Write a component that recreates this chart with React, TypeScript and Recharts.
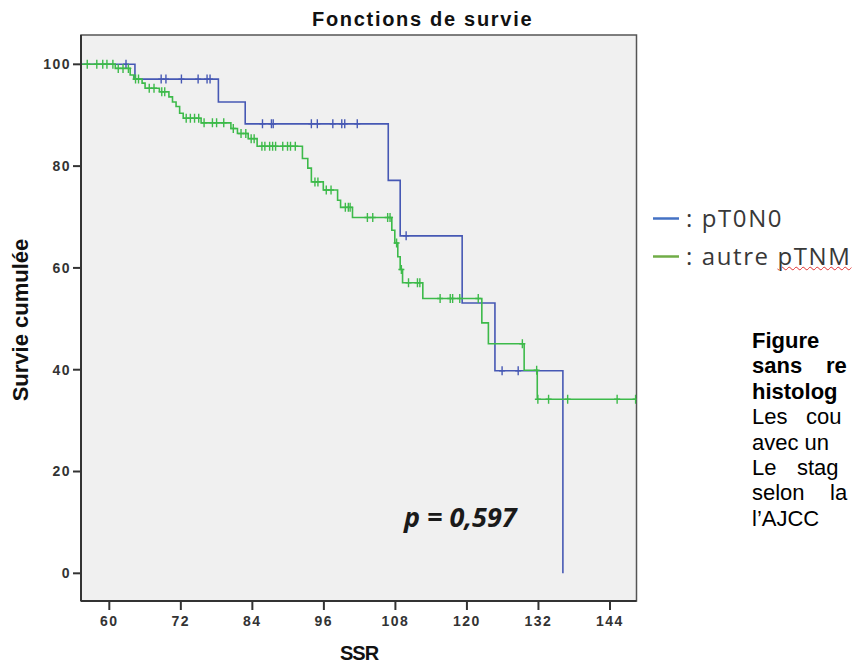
import React from "react";
import { ComposedChart, Line, Scatter, XAxis, YAxis, ReferenceArea } from "recharts";

type Step = { t: number; s: number };

const xTicks = [60, 72, 84, 96, 108, 120, 132, 144];
const yTicks = [0, 20, 40, 60, 80, 100];

// pT0N0 : temps (mois) et survie cumulée (%) à chaque palier
const pT0N0Times = [55.25, 64.3, 78.3, 82.8, 106.8, 108.8, 119.2, 124.7, 136.1];
const pT0N0Surv = [100, 97.1, 92.6, 88.3, 77.2, 66.3, 53.1, 39.8, 0];
const pT0N0Censored = [
  62.8, 68.7, 69.5, 72.1, 74.9, 76.4, 76.9, 85.7, 87.2, 87.5, 93.9, 94.9, 97.5, 99.0,
  99.5, 101.6, 109.8, 125.9, 128.6,
];

// autre pTNM
const autreTimes = [
  55.25, 61.0, 63.5, 64.1, 65.5, 66.0, 68.4, 70.0, 70.6, 71.2, 71.8, 72.4, 75.4, 80.4,
  81.5, 83.3, 84.8, 92.4, 93.3, 93.9, 95.9, 98.3, 98.8, 100.8, 107.4, 107.9, 108.4,
  108.8, 109.2, 112.6, 122.5, 123.6, 129.6, 131.8, 148.45,
];
const autreSurv = [
  100, 99.2, 97.9, 97.1, 96.3, 95.3, 94.6, 93.6, 92.6, 91.7, 90.4, 89.4, 88.5, 87.4,
  86.4, 85.4, 83.9, 81.5, 79.6, 76.9, 75.3, 73.3, 71.9, 69.9, 67.4, 64.9, 62.2, 59.7,
  57.1, 54.0, 49.2, 45.1, 39.9, 34.2, 34.2,
];
const autreCensored = [
  56.3, 57.9, 58.9, 59.6, 60.6, 61.5, 62.3, 63.2, 64.4, 64.9, 66.7, 67.5, 68.8, 69.3,
  72.9, 73.6, 74.3, 75.0, 75.9, 77.3, 78.0, 79.2, 80.8, 82.1, 82.9, 83.8, 84.3, 85.6,
  86.1, 86.9, 87.4, 87.9, 89.1, 89.9, 90.4, 91.2, 94.5, 95.0, 96.4, 97.2, 99.6, 100.1,
  100.4, 103.3, 104.2, 106.7, 107.1, 108.2, 109.0, 110.2, 111.7, 112.1, 115.5, 117.2,
  117.6, 118.8, 121.9, 129.3, 131.7, 131.9, 133.7, 136.9, 145.2, 148.3,
];

const BLUE = "#4658b4";
const GREEN = "#3dba4a";

const toSteps = (times: number[], surv: number[]): Step[] =>
  times.map((t, i) => ({ t, s: surv[i] }));

// niveau de la courbe au temps de censure
const censorPoints = (steps: Step[], times: number[]): Step[] =>
  times.map((t) => {
    let s = steps[0].s;
    for (const st of steps) if (st.t <= t) s = st.s;
    return { t, s };
  });

const pT0N0Steps = toSteps(pT0N0Times, pT0N0Surv);
const autreSteps = toSteps(autreTimes, autreSurv);

const plus = (color: string) => (p: any) => (
  <path
    d={`M${p.cx - 3},${p.cy}H${p.cx + 3}M${p.cx},${p.cy - 4.5}V${p.cy + 4.5}`}
    stroke={color}
    strokeWidth={1.4}
    fill="none"
  />
);

const tickStyle = {
  fill: "#333",
  fontSize: 14,
  fontWeight: 700,
  letterSpacing: 1.5,
  fontFamily: "Liberation Sans, Arial, sans-serif",
};

const captionLines: { y: number; bold: boolean; words: [number, string][] }[] = [
  { y: 348, bold: true, words: [[752, "Figure"]] },
  { y: 373, bold: true, words: [[752, "sans"], [826, "re"]] },
  { y: 399, bold: true, words: [[752, "histolog"]] },
  { y: 424, bold: false, words: [[752, "Les"], [806, "cou"]] },
  { y: 450, bold: false, words: [[752, "avec un"]] },
  { y: 475, bold: false, words: [[752, "Le"], [797, "stag"]] },
  { y: 500, bold: false, words: [[752, "selon"], [830, "la"]] },
  { y: 526, bold: false, words: [[752, "l’AJCC"]] },
];

const legendText = {
  position: "absolute" as const,
  left: 686,
  fontFamily: "Open Sans, sans-serif",
  fontSize: 24,
  lineHeight: "24px",
  letterSpacing: 1.6,
  color: "#383838",
  whiteSpace: "nowrap" as const,
};

export default function App() {
  return (
    <div
      style={{
        position: "absolute",
        left: 0,
        top: 0,
        width: 855,
        height: 664,
        overflow: "hidden",
        background: "#fff",
      }}
    >
      <div style={{ position: "absolute", left: 0, top: 0 }}>
        <ComposedChart
          width={640}
          height={664}
          margin={{ top: 35, right: 3.5, bottom: 23, left: 41 }}
        >
          <XAxis
            type="number"
            dataKey="t"
            domain={[55.25, 148.45]}
            ticks={xTicks}
            allowDataOverflow
            height={40}
            tickSize={9}
            tickMargin={6}
            axisLine={{ stroke: "#333", strokeWidth: 2 }}
            tickLine={{ stroke: "#333", strokeWidth: 2 }}
            tick={tickStyle}
          />
          <YAxis
            type="number"
            dataKey="s"
            domain={[-5.44, 105.76]}
            ticks={yTicks}
            allowDataOverflow
            width={40}
            tickSize={8}
            tickMargin={2}
            axisLine={{ stroke: "#333", strokeWidth: 2 }}
            tickLine={{ stroke: "#333", strokeWidth: 2 }}
            tick={tickStyle}
          />
          <ReferenceArea
            x1={55.25}
            x2={148.45}
            y1={-5.44}
            y2={105.76}
            fill="#f0f0f0"
            fillOpacity={1}
            stroke="#555"
            strokeWidth={1.5}
          />
          <Line
            data={pT0N0Steps}
            dataKey="s"
            type="stepAfter"
            stroke={BLUE}
            strokeWidth={1.6}
            dot={false}
            activeDot={false}
            isAnimationActive={false}
          />
          <Line
            data={autreSteps}
            dataKey="s"
            type="stepAfter"
            stroke={GREEN}
            strokeWidth={1.6}
            dot={false}
            activeDot={false}
            isAnimationActive={false}
          />
          <Scatter
            data={censorPoints(pT0N0Steps, pT0N0Censored)}
            dataKey="s"
            shape={plus(BLUE)}
            isAnimationActive={false}
          />
          <Scatter
            data={censorPoints(autreSteps, autreCensored)}
            dataKey="s"
            shape={plus(GREEN)}
            isAnimationActive={false}
          />
        </ComposedChart>
      </div>

      <svg
        width={855}
        height={664}
        style={{ position: "absolute", left: 0, top: 0, pointerEvents: "none" }}
        fontFamily="Liberation Sans, Arial, sans-serif"
      >
        <text x={312} y={26} fontSize={20} fontWeight={700} letterSpacing={1.7} fill="#111">
          Fonctions de survie
        </text>
        <text
          x={0}
          y={0}
          transform="translate(28,320) rotate(-90)"
          textAnchor="middle"
          fontSize={22}
          fontWeight={700}
          fill="#111"
        >
          Survie cumulée
        </text>
        <text x={340} y={660} fontSize={20} fontWeight={700} letterSpacing={-1} fill="#111">
          SSR
        </text>
        <text
          x={404}
          y={527}
          fontSize={27}
          fontWeight={700}
          fontStyle="italic"
          fontFamily="Open Sans, sans-serif"
          fill="#1a1a1a"
        >
          p = 0,597
        </text>

        <line x1={653} x2={679} y1={218.5} y2={218.5} stroke="#4472c4" strokeWidth={2.5} />
        <line x1={653} x2={679} y1={256.5} y2={256.5} stroke="#70ad47" strokeWidth={2.5} />

        {captionLines.map((ln) => (
          <text
            key={ln.y}
            y={ln.y}
            fontSize={22}
            fontWeight={ln.bold ? 700 : 400}
            fill="#000"
          >
            {ln.words.map(([x, w]) => (
              <tspan key={x} x={x}>
                {w}
              </tspan>
            ))}
          </text>
        ))}
      </svg>

      <div style={{ ...legendText, top: 206 }}>: pT0N0</div>
      <div style={{ ...legendText, top: 244 }}>
        : autre{" "}
        <span style={{ textDecoration: "underline wavy #e03030", textDecorationThickness: 1 }}>
          pTNM
        </span>
      </div>
    </div>
  );
}
